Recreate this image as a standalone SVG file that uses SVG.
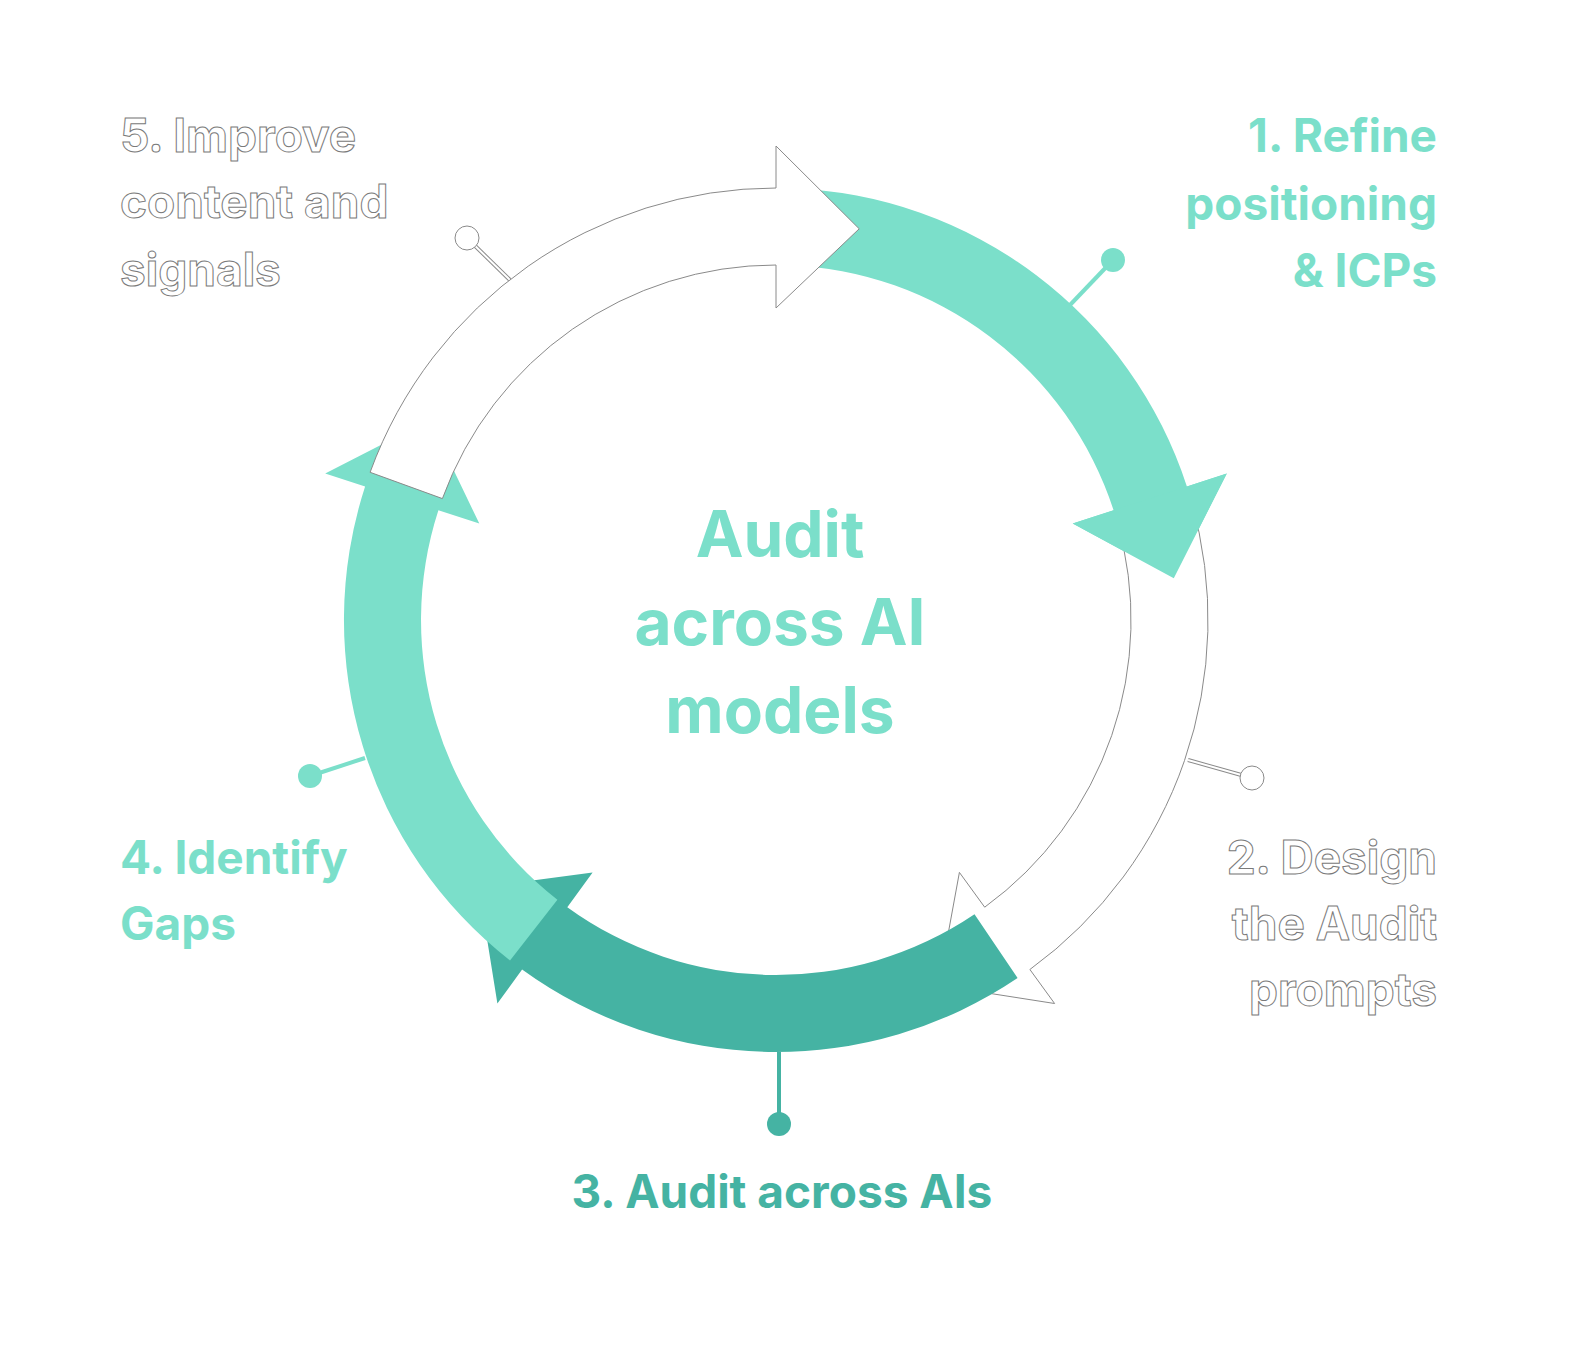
<svg xmlns="http://www.w3.org/2000/svg" width="1576" height="1350" viewBox="0 0 1576 1350">
<style>
.lt{fill:#7BDFCA}
.dk{fill:#45B3A3}
.wh{fill:#fff;stroke:#8a8a8a;stroke-width:1}
text{font-family:"Inter","Noto Sans","Liberation Sans",sans-serif;font-weight:700;font-size:46px}
.tl{fill:#7BDFCA}
.tw{fill:#fff;stroke:#7a7a7a;stroke-width:1}
.td{fill:#45B3A3}
.c{font-size:64px;text-anchor:middle}
.r{text-anchor:end}
</style>
<rect width="1576" height="1350" fill="#fff"/>
<g id="connectors">
<line x1="1070" y1="305" x2="1113" y2="260" stroke="#7BDFCA" stroke-width="4"/>
<line x1="1188" y1="760" x2="1252" y2="778" stroke="#8a8a8a" stroke-width="4"/>
<line x1="1188" y1="760" x2="1252" y2="778" stroke="#fff" stroke-width="2"/>
<line x1="779" y1="1052" x2="779" y2="1124" stroke="#45B3A3" stroke-width="4"/>
<line x1="365" y1="758" x2="310" y2="776" stroke="#7BDFCA" stroke-width="4"/>
<line x1="510" y1="280" x2="467" y2="238" stroke="#8a8a8a" stroke-width="4"/>
<line x1="510" y1="280" x2="467" y2="238" stroke="#fff" stroke-width="2"/>
<circle cx="1113" cy="260" r="12" class="lt"/>
<circle cx="1252" cy="778" r="12" class="wh"/>
<circle cx="779" cy="1124" r="12" class="dk"/>
<circle cx="310" cy="776" r="12" class="lt"/>
<circle cx="467" cy="238" r="12" class="wh"/>
</g>
<g id="arrow1"><path class="lt" d="M791.1,188.3 A432,432 0 0 1 1186.9,486.5 L1226.8,473.5 L1173.8,578.2 L1072.7,523.6 L1113.6,510.3 A355,355 0 0 0 788.4,265.2 Z"/></g>
<g id="arrow2"><path class="wh" d="M1191.3,500.9 A432,432 0 0 1 1029.9,969.5 L1054.6,1003.5 L938.7,985.4 L959.4,872.4 L984.7,907.2 A355,355 0 0 0 1117.3,522.2 Z"/></g>
<g id="arrow3"><path class="dk" d="M1017.6,978.1 A432,432 0 0 1 522.1,969.5 L497.4,1003.5 L478.8,887.6 L592.6,872.4 L567.3,907.2 A355,355 0 0 0 974.5,914.3 Z"/></g>
<g id="arrow4"><path class="lt" d="M510,960.4 A432,432 0 0 1 365.1,486.5 L325.2,473.5 L429.6,420 L479.3,523.6 L438.4,510.3 A355,355 0 0 0 557.4,899.7 Z"/></g>
<g id="arrow5"><path class="wh" d="M370.1,472.3 A432,432 0 0 1 776,188 L776,146 L859.2,228.8 L776,308 L776,265 A355,355 0 0 0 442.4,498.6 Z"/></g>
<g id="arrow1head"><path class="lt" d="M1186.9,486.5 L1226.8,473.5 L1173.8,578.2 L1072.7,523.6 L1113.6,510.3 Z"/></g>
<g id="center">
<text class="c tl" x="780" y="557">Audit</text>
<text class="c tl" x="780" y="645">across AI</text>
<text class="c tl" x="780" y="733">models</text>
</g>
<g id="step1">
<text class="tl r" x="1437" y="152">1. Refine</text>
<text class="tl r" x="1437" y="220">positioning</text>
<text class="tl r" x="1437" y="287">&amp; ICPs</text>
</g>
<g id="step2">
<text class="tw r" x="1437" y="874">2. Design</text>
<text class="tw r" x="1437" y="940">the Audit</text>
<text class="tw r" x="1437" y="1006">prompts</text>
</g>
<g id="step3"><text class="td" x="782" y="1208" text-anchor="middle">3. Audit across AIs</text></g>
<g id="step4">
<text class="tl" x="120" y="874">4. Identify</text>
<text class="tl" x="120" y="940">Gaps</text>
</g>
<g id="step5">
<text class="tw" x="120" y="152">5. Improve</text>
<text class="tw" x="120" y="218">content and</text>
<text class="tw" x="120" y="286">signals</text>
</g>
</svg>
